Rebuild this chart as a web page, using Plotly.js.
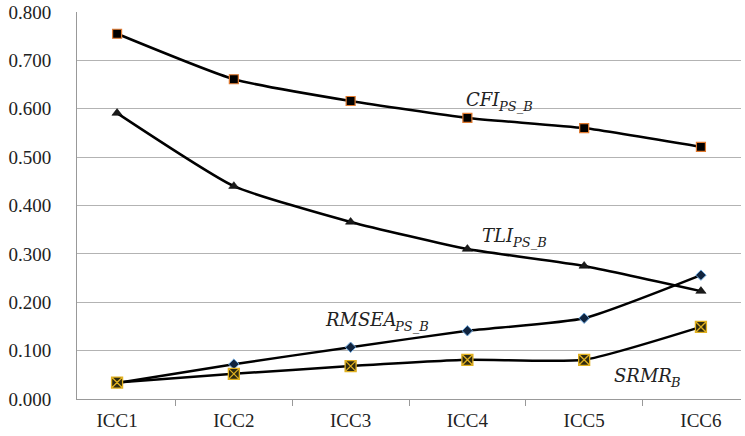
<!DOCTYPE html>
<html>
<head>
<meta charset="utf-8">
<script src="https://cdn.plot.ly/plotly-3.0.1.min.js"></script>
<style>html,body{margin:0;padding:0;background:#fff}#chart{width:745px;height:436px}</style>
</head>
<body>
<div id="chart"></div>
<script>
const categories = ["ICC1", "ICC2", "ICC3", "ICC4", "ICC5", "ICC6"];
const cfi = [0.755, 0.661, 0.616, 0.581, 0.560, 0.521];
const tli = [0.591, 0.440, 0.366, 0.310, 0.275, 0.223];
const rmsea = [0.033, 0.072, 0.107, 0.141, 0.167, 0.256];
const srmr = [0.034, 0.052, 0.068, 0.081, 0.081, 0.149];
const yTicks = [0, 0.1, 0.2, 0.3, 0.4, 0.5, 0.6, 0.7, 0.8];
const labelMain = ["CFI", "TLI", "RMSEA", "SRMR"];
const labelSub = ["PS_B", "PS_B", "PS_B", "B"];

const lineStyle = {color: "#000", width: 2.5, shape: "spline", smoothing: 0.5};
const traces = [
  {x: categories, y: cfi, mode: "lines+markers", line: lineStyle,
   marker: {symbol: "square", size: 9, color: "#000", line: {color: "#e07a30", width: 1.2}}},
  {x: categories, y: tli, mode: "lines+markers", line: lineStyle,
   marker: {symbol: "triangle-up", size: 9, color: "#1a1a1a", line: {color: "#000", width: 0.5}}},
  {x: categories, y: rmsea, mode: "lines+markers", line: lineStyle,
   marker: {symbol: "diamond", size: 8, color: "#10243f", line: {color: "#6fa8dc", width: 1}}},
  {x: categories, y: srmr, mode: "lines+markers", line: lineStyle,
   marker: {symbol: "square-x", size: 11, color: "#2e2a10", line: {color: "#e0b020", width: 1.3}}}
];

const tickFont = {family: "'Liberation Serif', serif", size: 19, color: "#222"};
const mainFont = {family: "'DejaVu Serif', serif", size: 18, color: "#222", style: "italic"};
const subFont = {family: "'DejaVu Serif', serif", size: 13, color: "#222", style: "italic"};
// label anchor points (category index, value) where main text ends and subscript starts
const labelAnchors = [[3.27, 0.620], [3.39, 0.337], [2.38, 0.165], [4.74, 0.048]];

const annotations = [];
labelAnchors.forEach(function (a, i) {
  annotations.push({x: a[0], y: a[1], xref: "x", yref: "y", showarrow: false,
    xanchor: "right", yanchor: "middle", text: labelMain[i], font: mainFont,
    borderpad: 0, borderwidth: 0, xshift: 1});
  annotations.push({x: a[0], y: a[1], xref: "x", yref: "y", showarrow: false,
    xanchor: "left", yanchor: "middle", text: labelSub[i], font: subFont,
    borderpad: 0, borderwidth: 0, xshift: -1, yshift: -7});
});

const layout = {
  width: 745, height: 436,
  margin: {l: 77, r: 4, t: 12, b: 37},
  paper_bgcolor: "#fff", plot_bgcolor: "#fff",
  showlegend: false,
  font: {family: "'Liberation Serif', serif", size: 19, color: "#222"},
  xaxis: {
    type: "category", showgrid: false, showline: true, linecolor: "#999", linewidth: 1,
    ticks: "outside", tickson: "boundaries", ticklen: 6, tickcolor: "#999",
    ticklabelstandoff: 4,
    tickfont: tickFont, zeroline: false
  },
  yaxis: {
    range: [0, 0.8], tickvals: yTicks, tickformat: ".3f",
    showgrid: true, gridcolor: "#b3b3b3", gridwidth: 1,
    showline: true, linecolor: "#999", linewidth: 1, zeroline: false,
    ticks: "", ticklabelstandoff: 21,
    tickfont: tickFont
  },
  annotations: annotations
};
Plotly.newPlot("chart", traces, layout, {displayModeBar: false, staticPlot: true});
</script>
</body>
</html>
